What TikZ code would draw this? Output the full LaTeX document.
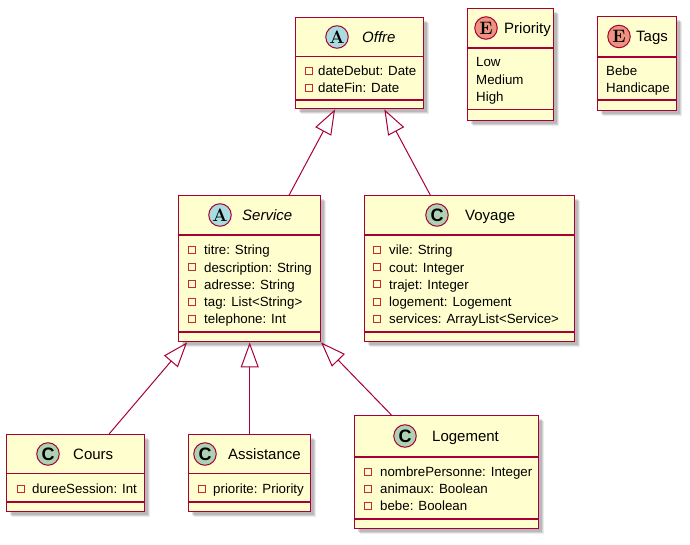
\documentclass[tikz,border=0pt]{standalone}
\usepackage{fontspec}
\newfontfamily\umlfont{Liberation Sans}
\usetikzlibrary{arrows.meta,shadows}
\definecolor{umlfill}{HTML}{FEFECE}
\definecolor{umlline}{HTML}{A80036}
\definecolor{spotC}{HTML}{ADD1B2}
\definecolor{spotA}{HTML}{A9DCDF}
\definecolor{spotE}{HTML}{EB937F}
\definecolor{privc}{HTML}{C82930}
\tikzset{
  umlbox/.style={rectangle, draw=umlline, fill=umlfill, line width=1.4pt, inner sep=0pt, anchor=north west,
    drop shadow={shadow xshift=5pt, shadow yshift=-5pt, opacity=0.08, fill=black},
    drop shadow={shadow xshift=4pt, shadow yshift=-4pt, opacity=0.10, fill=black},
    drop shadow={shadow xshift=3pt, shadow yshift=-3pt, opacity=0.12, fill=black}},
  sepline/.style={draw=umlline, line width=1.1pt},
  spot/.style={circle, draw=umlline, line width=1pt, minimum size=22.5pt, inner sep=0pt,
    font=\rmfamily\bfseries\fontsize{18}{18}\selectfont},
  spotsans/.style={spot, font=\umlfont\bfseries\fontsize{18}{18}\selectfont},
  umltitle/.style={anchor=west, inner sep=0pt, font=\umlfont\fontsize{15}{18}\selectfont, text height=10.8pt, text depth=0pt},
  umlattr/.style={anchor=west, inner sep=0pt, font=\umlfont\fontsize{13.3}{16}\selectfont, text height=9.6pt, text depth=0pt},
  priv/.style={rectangle, draw=privc, line width=0.9pt, minimum size=7pt, inner sep=0pt},
  ext/.style={draw=umlline, line width=1pt, -{Triangle[open, length=25pt, width=18pt, line width=1pt]}},
}
\newcommand\umlfield[5]{%
  \node[priv] (#1s) at (#2,#4) {};
  \node[umlattr] (#1) at (#3,#4) {#5};}
\begin{document}
\begin{tikzpicture}[x=1pt,y=-1pt]
\useasboundingbox (0,0) rectangle (690,545);
\fill[white] (0,0) rectangle (690,545);

% ---------- Offre ----------
\node[umlbox, minimum width=128pt, minimum height=91pt] (offre) at (295,17) {};
\draw[sepline] (offre.west |- 0,56.5) -- (offre.east |- 0,56.5);
\draw[sepline] (offre.west |- 0,100) -- (offre.east |- 0,100);
\node[spot, fill=spotA] (offreC) at (337,37) {A};
\node[umltitle] (offreT) at (362,37) {\itshape Offre};
\umlfield{offreA}{308.5}{318}{71}{dateDebut: Date}
\umlfield{offreB}{308.5}{318}{88}{dateFin: Date}

% ---------- Priority ----------
\node[umlbox, minimum width=86pt, minimum height=112pt] (prio) at (467,8) {};
\draw[sepline] (prio.west |- 0,48) -- (prio.east |- 0,48);
\draw[sepline] (prio.west |- 0,109.5) -- (prio.east |- 0,109.5);
\node[spot, fill=spotE] (prioC) at (486,28) {E};
\node[umltitle] (prioT) at (504,28) {Priority};
\node[umlattr] (prioA) at (476,62) {Low};
\node[umlattr] (prioB) at (476,80) {Medium};
\node[umlattr] (prioD) at (476,97) {High};

% ---------- Tags ----------
\node[umlbox, minimum width=79pt, minimum height=94pt] (tags) at (597,16) {};
\draw[sepline] (tags.west |- 0,57) -- (tags.east |- 0,57);
\draw[sepline] (tags.west |- 0,100) -- (tags.east |- 0,100);
\node[spot, fill=spotE] (tagsC) at (619,36.5) {E};
\node[umltitle] (tagsT) at (636,36.5) {Tags};
\node[umlattr] (tagsA) at (606,71) {Bebe};
\node[umlattr] (tagsB) at (606,88) {Handicape};

% ---------- Service ----------
\node[umlbox, minimum width=142pt, minimum height=146pt] (service) at (178,195) {};
\draw[sepline] (service.west |- 0,235) -- (service.east |- 0,235);
\draw[sepline] (service.west |- 0,332) -- (service.east |- 0,332);
\node[spot, fill=spotA] (serviceC) at (220,215) {A};
\node[umltitle] (serviceT) at (242,215) {\itshape Service};
\umlfield{servA}{191.5}{204}{250}{titre: String}
\umlfield{servB}{191.5}{204}{267.2}{description: String}
\umlfield{servD}{191.5}{204}{284.4}{adresse: String}
\umlfield{servE}{191.5}{204}{301.6}{tag: List<String>}
\umlfield{servF}{191.5}{204}{318.8}{telephone: Int}

% ---------- Voyage ----------
\node[umlbox, minimum width=210pt, minimum height=146pt] (voyage) at (364,195) {};
\draw[sepline] (voyage.west |- 0,235) -- (voyage.east |- 0,235);
\draw[sepline] (voyage.west |- 0,332) -- (voyage.east |- 0,332);
\node[spotsans, fill=spotC] (voyageC) at (437,215) {C};
\node[umltitle] (voyageT) at (465,215) {Voyage};
\umlfield{voyA}{377}{389}{250}{vile: String}
\umlfield{voyB}{377}{389}{267.2}{cout: Integer}
\umlfield{voyD}{377}{389}{284.4}{trajet: Integer}
\umlfield{voyE}{377}{389}{301.6}{logement: Logement}
\umlfield{voyF}{377}{389}{318.8}{services: ArrayList<Service>}

% ---------- Cours ----------
\node[umlbox, minimum width=138pt, minimum height=77pt] (cours) at (6,434) {};
\draw[sepline] (cours.west |- 0,473.5) -- (cours.east |- 0,473.5);
\draw[sepline] (cours.west |- 0,502) -- (cours.east |- 0,502);
\node[spotsans, fill=spotC] (coursC) at (48,454) {C};
\node[umltitle] (coursT) at (73,454) {Cours};
\umlfield{coursA}{20.5}{32}{489}{dureeSession: Int}

% ---------- Assistance ----------
\node[umlbox, minimum width=122pt, minimum height=77pt] (assist) at (188,434) {};
\draw[sepline] (assist.west |- 0,473.5) -- (assist.east |- 0,473.5);
\draw[sepline] (assist.west |- 0,502) -- (assist.east |- 0,502);
\node[spotsans, fill=spotC] (assistC) at (205,454) {C};
\node[umltitle] (assistT) at (228,454) {Assistance};
\umlfield{assistA}{201.5}{213}{489}{priorite: Priority}

% ---------- Logement ----------
\node[umlbox, minimum width=184pt, minimum height=113pt] (logement) at (354,415) {};
\draw[sepline] (logement.west |- 0,457) -- (logement.east |- 0,457);
\draw[sepline] (logement.west |- 0,519) -- (logement.east |- 0,519);
\node[spotsans, fill=spotC] (logementC) at (405,436) {C};
\node[umltitle] (logementT) at (432,436) {Logement};
\umlfield{logA}{368}{380}{471.5}{nombrePersonne: Integer}
\umlfield{logB}{368}{380}{489}{animaux: Boolean}
\umlfield{logD}{368}{380}{506}{bebe: Boolean}

% ---------- Generalizations ----------
\draw[ext] (service) -- (offre);
\draw[ext] (voyage) -- (offre);
\draw[ext] (cours) -- (service);
\draw[ext] (assist) -- (service);
\draw[ext] (logement) -- (service);
\end{tikzpicture}
\end{document}
